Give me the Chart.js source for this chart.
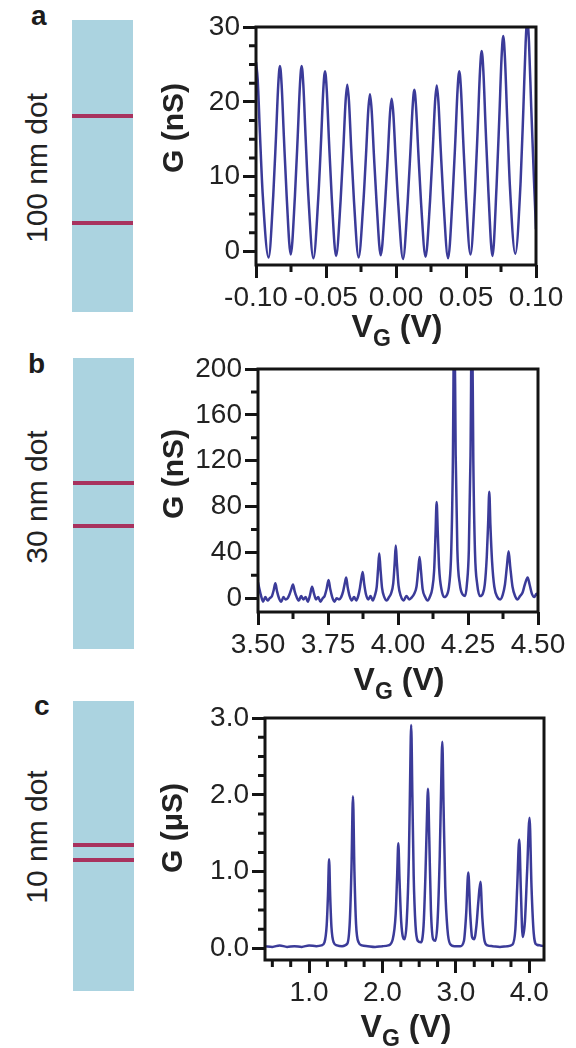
<!DOCTYPE html>
<html lang="en">
<head>
<meta charset="UTF-8">
<title>Conductance oscillations of 100, 30 and 10 nm dots</title>
<script src="https://cdn.jsdelivr.net/npm/chart.js"></script>
<style>
    body { margin: 0; background: #fff; font-family: 'Liberation Sans', Arial, sans-serif; color: #222; }
    #page { position: relative; width: 576px; height: 1048px; overflow: hidden; }
    canvas { position: absolute; }
    .letter { position: absolute; font-weight: bold; font-size: 28px; line-height: 1; color: #1c1c1c; }
    .dot { position: absolute; width: 61px; background: #abd3e0; }
    .barrier { position: absolute; left: 0; width: 100%; height: 4px; background: #a8325e; }
    .side { position: absolute; font-size: 30px; line-height: 1; white-space: nowrap; transform: translate(-50%, -50%) rotate(-90deg); }
    .ytitle { position: absolute; font-size: 30px; font-weight: bold; line-height: 1; white-space: nowrap; transform: translate(-50%, -50%) rotate(-90deg); }
    .xtitle { position: absolute; font-size: 32px; font-weight: bold; line-height: 1; white-space: nowrap; transform: translate(-50%, -50%); }
    .xtitle span { font-size: 23px; position: relative; top: 9px; }
</style>
</head>
<body>
<div id="page">
    <!-- schematic dots on the left -->
    <div class="letter" style="left:31px;top:2px">a</div>
    <div class="dot" style="left:72px;top:20px;height:292px">
        <div class="barrier" style="top:94px"></div>
        <div class="barrier" style="top:201px"></div>
    </div>
    <div class="side" style="left:37px;top:168px">100 nm dot</div>

    <div class="letter" style="left:28px;top:350px">b</div>
    <div class="dot" style="left:73px;top:358px;height:291px">
        <div class="barrier" style="top:123px"></div>
        <div class="barrier" style="top:166px"></div>
    </div>
    <div class="side" style="left:37px;top:497px">30 nm dot</div>

    <div class="letter" style="left:34px;top:692px">c</div>
    <div class="dot" style="left:73px;top:701px;height:290px">
        <div class="barrier" style="top:142px"></div>
        <div class="barrier" style="top:157px"></div>
    </div>
    <div class="side" style="left:37px;top:837px">10 nm dot</div>

    <!-- charts -->
    <canvas id="chartA" width="436" height="340" style="left:140px;top:0px"></canvas>
    <canvas id="chartB" width="436" height="345" style="left:140px;top:340px"></canvas>
    <canvas id="chartC" width="436" height="358" style="left:140px;top:690px"></canvas>

    <div class="ytitle" style="left:173px;top:128px">G (nS)</div>
    <div class="ytitle" style="left:173px;top:474px">G (nS)</div>
    <div class="ytitle" style="left:172px;top:828px">G (μS)</div>

    <div class="xtitle" style="left:397px;top:326px">V<span>G</span> (V)</div>
    <div class="xtitle" style="left:399px;top:679px">V<span>G</span> (V)</div>
    <div class="xtitle" style="left:406px;top:1026px">V<span>G</span> (V)</div>
</div>

<script>
    // ---- panel a : 100 nm dot, G (nS) vs VG (V)
    const aX = [
        -0.1000, -0.0988, -0.0972, -0.0952, -0.0910,
        -0.0877, -0.0857, -0.0841, -0.0829, -0.0817, -0.0801, -0.0781, -0.0752,
        -0.0722, -0.0702, -0.0686, -0.0674, -0.0662, -0.0646, -0.0626, -0.0590,
        -0.0555, -0.0535, -0.0519, -0.0507, -0.0495, -0.0479, -0.0459, -0.0428,
        -0.0396, -0.0376, -0.0360, -0.0348, -0.0336, -0.0320, -0.0300, -0.0267,
        -0.0234, -0.0214, -0.0198, -0.0186, -0.0174, -0.0158, -0.0138, -0.0109,
        -0.0079, -0.0059, -0.0043, -0.0031, -0.0019, -0.0003, 0.0017, 0.0050,
        0.0083, 0.0103, 0.0119, 0.0131, 0.0143, 0.0159, 0.0179, 0.0211,
        0.0243, 0.0263, 0.0279, 0.0291, 0.0303, 0.0319, 0.0339, 0.0372,
        0.0404, 0.0424, 0.0440, 0.0452, 0.0464, 0.0480, 0.0500, 0.0532,
        0.0564, 0.0584, 0.0600, 0.0612, 0.0624, 0.0640, 0.0660, 0.0689,
        0.0718, 0.0738, 0.0754, 0.0766, 0.0778, 0.0794, 0.0814, 0.0852,
        0.0890, 0.0910, 0.0926, 0.0938, 0.0950, 0.0966, 0.0986, 0.1000
    ];
    const aG = [
        25.3, 23.0, 15.8, 7.6, -0.8,
        7.4, 15.4, 22.3, 24.8, 22.3, 15.4, 7.4, -0.4,
        7.4, 15.4, 22.3, 24.8, 22.3, 15.4, 7.4, -0.9,
        7.2, 14.9, 21.7, 24.1, 21.7, 14.9, 7.2, -0.6,
        6.7, 13.8, 20.1, 22.3, 20.1, 13.8, 6.7, -0.8,
        6.3, 13.0, 18.9, 21.0, 18.9, 13.0, 6.3, -0.5,
        6.1, 12.6, 18.4, 20.4, 18.4, 12.6, 6.1, -1.0,
        6.5, 13.4, 19.4, 21.6, 19.4, 13.4, 6.5, -0.7,
        6.7, 13.8, 20.0, 22.2, 20.0, 13.8, 6.7, -0.9,
        7.2, 14.9, 21.7, 24.1, 21.7, 14.9, 7.2, -0.4,
        8.0, 16.6, 24.1, 26.8, 24.1, 16.6, 8.0, -0.6,
        8.6, 17.9, 25.9, 28.8, 25.9, 17.9, 8.6, -0.3,
        9.3, 19.2, 27.9, 31.0, 27.9, 19.2, 9.3, 3.0
    ];
    const aXTicks = [-0.1, -0.05, 0, 0.05, 0.1];
    const aXLabels = ['-0.10', '-0.05', '0.00', '0.05', '0.10'];
    const aXMinor = [-0.075, -0.025, 0.025, 0.075];
    const aYTicks = [0, 10, 20, 30];
    const aYLabels = ['0', '10', '20', '30'];
    const aYMinor = [2.5, 5, 7.5, 12.5, 15, 17.5, 22.5, 25, 27.5];

    // ---- panel b : 30 nm dot
    const bX = [
        3.500, 3.505, 3.511, 3.518, 3.526, 3.534, 3.542, 3.550, 3.556, 3.562,
        3.568, 3.575, 3.583, 3.591, 3.598, 3.606, 3.612, 3.619, 3.625, 3.631,
        3.638, 3.646, 3.654, 3.662, 3.670, 3.678, 3.686, 3.693, 3.700, 3.707,
        3.715, 3.723, 3.731, 3.738, 3.745, 3.752, 3.758, 3.765, 3.773, 3.781,
        3.789, 3.797, 3.804, 3.810, 3.815, 3.820, 3.827, 3.835, 3.843, 3.851,
        3.858, 3.864, 3.869, 3.874, 3.879, 3.886, 3.894, 3.902, 3.910, 3.918,
        3.924, 3.929, 3.933, 3.937, 3.943, 3.951, 3.960, 3.968, 3.975, 3.983,
        3.988, 3.992, 3.996, 4.002, 4.010, 4.020, 4.030, 4.040, 4.050, 4.058,
        4.066, 4.072, 4.077, 4.082, 4.088, 4.097, 4.106, 4.115, 4.122, 4.129,
        4.134, 4.138, 4.142, 4.147, 4.155, 4.165, 4.175, 4.183, 4.190, 4.196,
        4.201, 4.206, 4.212, 4.221, 4.232, 4.240, 4.246, 4.253, 4.259, 4.264,
        4.269, 4.275, 4.283, 4.293, 4.303, 4.310, 4.317, 4.322, 4.326, 4.330,
        4.336, 4.344, 4.355, 4.365, 4.374, 4.382, 4.389, 4.395, 4.401, 4.409,
        4.418, 4.427, 4.436, 4.445, 4.453, 4.463, 4.470, 4.478, 4.487, 4.494,
        4.500
    ];
    const bG = [
        14, 8, 2, -3, 1, -2, 0, 2, 7, 13,
        6, 0, -3, 1, -1, 0, 3, 8, 12, 6,
        1, -2, 2, -1, 1, -3, 3, 10, 4, -1,
        1, -3, 0, 2, 8, 16, 8, 1, -3, 0,
        -1, 1, 6, 13, 18, 10, 2, -2, 1, -2,
        2, 9, 17, 23, 13, 3, -1, 2, -2, 3,
        10, 26, 39, 27, 9, 1, -2, 1, 4, 13,
        30, 46, 31, 11, 2, -2, 2, -1, 1, 4,
        10, 24, 36, 24, 8, 1, -2, 2, 8, 24,
        56, 84, 58, 26, 8, 1, 3, 12, 40, 120,
        260, 125, 42, 12, 3, 2, 12, 42, 125, 260,
        120, 40, 12, 2, 4, 12, 36, 66, 93, 64,
        32, 10, 1, -1, 3, 12, 28, 41, 27, 10,
        2, -1, 2, 5, 12, 18, 12, 4, 1, 4,
        2
    ];
    const bXTicks = [3.5, 3.75, 4.0, 4.25, 4.5];
    const bXLabels = ['3.50', '3.75', '4.00', '4.25', '4.50'];
    const bXMinor = [3.625, 3.875, 4.125, 4.375];
    const bYTicks = [0, 40, 80, 120, 160, 200];
    const bYLabels = ['0', '40', '80', '120', '160', '200'];
    const bYMinor = [20, 60, 100, 140, 180];

    // ---- panel c : 10 nm dot, G in µS
    const cX = [
        0.40, 0.50, 0.60, 0.70, 0.80, 0.90, 1.00, 1.10, 1.17, 1.21,
        1.24, 1.258, 1.273, 1.288, 1.305, 1.335, 1.38, 1.45, 1.52, 1.555,
        1.578, 1.598, 1.618, 1.64, 1.675, 1.72, 1.80, 1.90, 2.00, 2.08,
        2.14, 2.18, 2.20, 2.216, 2.232, 2.255, 2.30, 2.33, 2.36, 2.375,
        2.391, 2.407, 2.425, 2.45, 2.48, 2.52, 2.56, 2.585, 2.603, 2.62,
        2.637, 2.66, 2.69, 2.72, 2.75, 2.78, 2.798, 2.815, 2.832, 2.855,
        2.885, 2.92, 2.98, 3.06, 3.11, 3.14, 3.169, 3.195, 3.22, 3.25,
        3.28, 3.305, 3.334, 3.36, 3.39, 3.43, 3.50, 3.60, 3.70, 3.77,
        3.81, 3.835, 3.863, 3.885, 3.91, 3.94, 3.97, 4.003, 4.03, 4.06,
        4.10, 4.15, 4.20
    ];
    const cG = [
        0.03, 0.02, 0.04, 0.02, 0.03, 0.02, 0.04, 0.03, 0.04, 0.08,
        0.30, 0.70, 1.16, 0.68, 0.28, 0.08, 0.04, 0.03, 0.06, 0.35,
        1.05, 1.98, 1.00, 0.32, 0.08, 0.04, 0.03, 0.02, 0.03, 0.04,
        0.12, 0.45, 0.95, 1.37, 0.90, 0.35, 0.12, 0.35, 1.20, 2.10,
        2.91, 2.00, 0.95, 0.30, 0.10, 0.08, 0.30, 0.95, 1.60, 2.08,
        1.45, 0.50, 0.12, 0.10, 0.35, 1.20, 2.05, 2.69, 1.85, 0.80,
        0.25, 0.06, 0.03, 0.03, 0.10, 0.45, 0.99, 0.45, 0.15, 0.12,
        0.30, 0.60, 0.87, 0.40, 0.10, 0.04, 0.03, 0.02, 0.03, 0.05,
        0.25, 0.80, 1.42, 0.75, 0.15, 0.35, 1.00, 1.70, 0.80, 0.20,
        0.05, 0.04, 0.03
    ];
    const cXTicks = [1, 2, 3, 4];
    const cXLabels = ['1.0', '2.0', '3.0', '4.0'];
    const cXMinor = [0.5, 0.75, 1.25, 1.5, 1.75, 2.25, 2.5, 2.75, 3.25, 3.5, 3.75];
    const cYTicks = [0, 1, 2, 3];
    const cYLabels = ['0.0', '1.0', '2.0', '3.0'];
    const cYMinor = [0.25, 0.5, 0.75, 1.25, 1.5, 1.75, 2.25, 2.5, 2.75];

    Chart.defaults.font.family = "'Liberation Sans', Arial, sans-serif";

    const lineColor = '#3b3b99';
    const inkColor = '#141414';

    // box around the plot plus the short minor ticks
    function frameWithMinorTicks(xMinor, yMinor) {
        return {
            id: 'frameMinor',
            afterDraw(chart) {
                const { ctx, chartArea: area, scales } = chart;
                ctx.save();
                ctx.strokeStyle = inkColor;
                ctx.lineWidth = 3;
                ctx.beginPath();
                xMinor.forEach(v => {
                    const px = scales.x.getPixelForValue(v);
                    ctx.moveTo(px, area.bottom);
                    ctx.lineTo(px, area.bottom + 7);
                });
                yMinor.forEach(v => {
                    const py = scales.y.getPixelForValue(v);
                    ctx.moveTo(area.left, py);
                    ctx.lineTo(area.left - 7, py);
                });
                ctx.stroke();
                ctx.strokeRect(area.left, area.top, area.right - area.left, area.bottom - area.top);
                ctx.restore();
            }
        };
    }

    function makePanel(id, xs, ys, p) {
        const tickFont = { size: 28 };
        const grid = { drawOnChartArea: false, tickLength: 13, tickWidth: 3, tickColor: inkColor };
        return new Chart(document.getElementById(id), {
            type: 'line',
            data: {
                datasets: [{
                    data: xs.map((x, i) => ({ x: x, y: ys[i] })),
                    borderColor: lineColor,
                    borderWidth: 2.5,
                    pointRadius: 0,
                    cubicInterpolationMode: 'monotone'
                }]
            },
            options: {
                responsive: false,
                animation: false,
                devicePixelRatio: 1,
                layout: { padding: { top: p.padTop, right: p.padRight, left: 0, bottom: 0 } },
                plugins: { legend: { display: false }, tooltip: { enabled: false } },
                scales: {
                    x: {
                        type: 'linear', min: p.xMin, max: p.xMax,
                        afterBuildTicks: s => { s.ticks = p.xTicks.map(v => ({ value: v })); },
                        afterFit: s => { s.height = p.xAxisH; },
                        ticks: { font: tickFont, color: '#222', padding: 3, maxRotation: 0, autoSkip: false,
                                 callback: (v, i) => p.xLabels[i] },
                        grid: grid,
                        border: { display: false }
                    },
                    y: {
                        min: p.yMin, max: p.yMax,
                        afterBuildTicks: s => { s.ticks = p.yTicks.map(v => ({ value: v })); },
                        afterFit: s => { s.width = p.yAxisW; },
                        ticks: { font: tickFont, color: '#222', padding: 3, autoSkip: false,
                                 callback: (v, i) => p.yLabels[i] },
                        grid: grid,
                        border: { display: false }
                    }
                }
            },
            plugins: [frameWithMinorTicks(p.xMinor, p.yMinor)]
        });
    }

    makePanel('chartA', aX, aG, {
        xMin: -0.1, xMax: 0.1, yMin: -1.8, yMax: 30,
        xTicks: aXTicks, xLabels: aXLabels, xMinor: aXMinor,
        yTicks: aYTicks, yLabels: aYLabels, yMinor: aYMinor,
        padTop: 27, padRight: 40, yAxisW: 116, xAxisH: 75
    });
    makePanel('chartB', bX, bG, {
        xMin: 3.5, xMax: 4.5, yMin: -12, yMax: 200,
        xTicks: bXTicks, xLabels: bXLabels, xMinor: bXMinor,
        yTicks: bYTicks, yLabels: bYLabels, yMinor: bYMinor,
        padTop: 29, padRight: 38, yAxisW: 118, xAxisH: 73
    });
    makePanel('chartC', cX, cG, {
        xMin: 0.4, xMax: 4.2, yMin: -0.15, yMax: 3.0,
        xTicks: cXTicks, xLabels: cXLabels, xMinor: cXMinor,
        yTicks: cYTicks, yLabels: cYLabels, yMinor: cYMinor,
        padTop: 28, padRight: 32, yAxisW: 125, xAxisH: 88
    });
</script>
</body>
</html>
